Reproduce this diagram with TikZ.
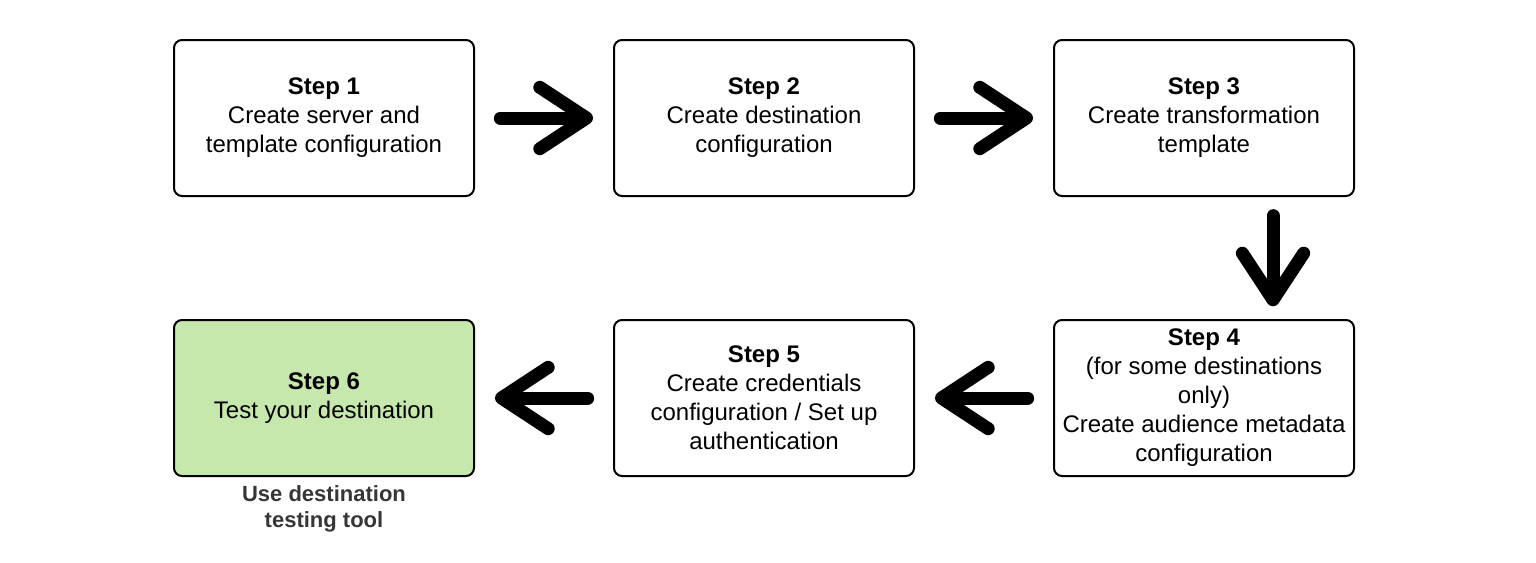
\documentclass[tikz,border=0pt]{standalone}
\usepackage{fontspec}
\setmainfont{Liberation Sans}
\usetikzlibrary{arrows.meta}

\definecolor{stepgreen}{HTML}{C7E8AC}
\definecolor{notegray}{HTML}{363636}

\begin{document}
\begin{tikzpicture}[x=0.75pt,y=-0.75pt,
  stepbox/.style={draw,line width=1.5pt,rounded corners=6pt,minimum width=225pt,
    minimum height=117pt,align=center,inner sep=2pt,
    font=\fontsize{18}{21.75}\selectfont},
  bigarrow/.style={line width=9.75pt,line cap=round,
    -{Straight Barb[round,length=35pt,width=46pt]},
    shorten <=19pt,shorten >=15pt}]

  \useasboundingbox (0,0) rectangle (1536,562);

  \node[stepbox] (s1) at (324,118) {\textbf{Step 1}\\Create server and\\template configuration};
  \node[stepbox] (s2) at (764,118) {\textbf{Step 2}\\Create destination\\configuration};
  \node[stepbox] (s3) at (1204,118) {\textbf{Step 3}\\Create transformation\\template};
  \node[stepbox] (s4) at (1204,398) {\textbf{Step 4}\\(for some destinations\\only)\\Create audience metadata\\configuration};
  \node[stepbox] (s5) at (764,398) {\textbf{Step 5}\\Create credentials\\configuration / Set up\\authentication};
  \node[stepbox,fill=stepgreen] (s6) at (324,398) {\textbf{Step 6}\\Test your destination};

  \node[align=center,text=notegray,font=\bfseries\fontsize{16.5}{20}\selectfont] (tool) at (324,509) {Use destination\\testing tool};

  \draw[bigarrow] (s1) -- (s2);
  \draw[bigarrow] (s2) -- (s3);
  \draw[bigarrow,shorten <=14pt,shorten >=9.5pt] ([xshift=51.75pt]s3.south) -- ([xshift=51.75pt]s4.north);
  \draw[bigarrow] (s4) -- (s5);
  \draw[bigarrow] (s5) -- (s6);

\end{tikzpicture}
\end{document}
